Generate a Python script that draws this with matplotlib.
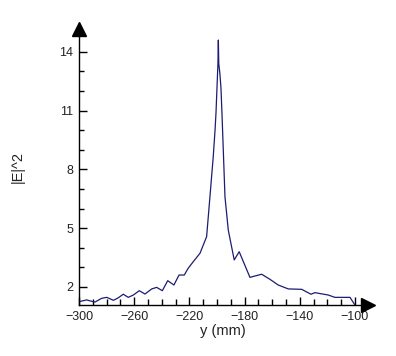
import numpy as np
import matplotlib.pyplot as plt
from matplotlib.ticker import MultipleLocator, FixedLocator

plt.rcParams['font.family'] = ['Liberation Sans', 'DejaVu Sans']

# |E|^2 along y (mm)
y_mm = [-300, -294.4, -292, -288.4, -283.6, -279.9, -275, -271.5, -267.9, -264.3,
        -260.6, -256.3, -252.2, -247.3, -243.7, -239.6, -235.7, -231.2, -227.5, -223.7,
        -220.9, -217.2, -212.3, -207.5, -205.1, -202.7, -201.4, -200.7, -200.0, -199.3,
        -199.0, -198.7, -197.9, -197.1, -196.4, -194.2, -191.8, -187.5, -183.9, -176.1,
        -172.5, -167.6, -161.6, -155.6, -148.3, -138.6, -131.9, -129.0, -119.4, -114.5,
        -103.6, -100]
e2 = [1.25, 1.34, 1.29, 1.23, 1.42, 1.47, 1.32, 1.45, 1.63, 1.47,
      1.59, 1.81, 1.64, 1.90, 1.98, 1.81, 2.32, 2.10, 2.61, 2.61,
      2.95, 3.29, 3.72, 4.57, 6.6, 8.65, 10.0, 10.9, 12.15, 13.4,
      14.6, 13.4, 12.9, 12.15, 10.9, 6.6, 4.9, 3.38, 3.8, 2.49,
      2.56, 2.65, 2.39, 2.10, 1.90, 1.88, 1.63, 1.71, 1.59, 1.47,
      1.47, 1.08]

yticks = [2, 5, 8, 11, 14]
xticks = [-300, -260, -220, -180, -140, -100]

fig = plt.figure(figsize=(3.96, 3.56), dpi=100)
ax = fig.add_axes([79/396, 51/356, 288.5/396, 276.5/356])

ax.plot(y_mm, e2, color='#1c1c72', lw=0.9)

ax.set_xlim(-300, -90.9)
ax.set_ylim(1.08, 15.19)

ax.spines['top'].set_visible(False)
ax.spines['right'].set_visible(False)
for s in ['left', 'bottom']:
    ax.spines[s].set_linewidth(1.0)
    ax.spines[s].set_color('black')

# arrow heads
ax.plot(1, 0, marker='>', color='black', ms=10, transform=ax.transAxes, clip_on=False)
ax.plot(0, 1, marker='^', color='black', ms=10, transform=ax.transAxes, clip_on=False)

ax.set_xticks(xticks)
ax.set_yticks(yticks)
ax.xaxis.set_minor_locator(MultipleLocator(10))
ax.yaxis.set_minor_locator(FixedLocator(list(range(2, 16))))
ax.tick_params(axis='both', which='both', direction='in', colors='black',
               labelcolor='#222222', labelsize=9)
ax.tick_params(axis='y', which='major', length=6, width=1, pad=4)
ax.tick_params(axis='y', which='minor', length=3.5, width=1)
ax.tick_params(axis='x', which='major', length=5.5, width=1, pad=4)
ax.tick_params(axis='x', which='minor', length=4, width=1)

ax.set_xlabel('y (mm)', fontsize=10.5, color='#222222', labelpad=1)
ax.set_ylabel('|E|^2', fontsize=10.5, color='#222222', labelpad=25)

fig.savefig('out.png', dpi=100)
